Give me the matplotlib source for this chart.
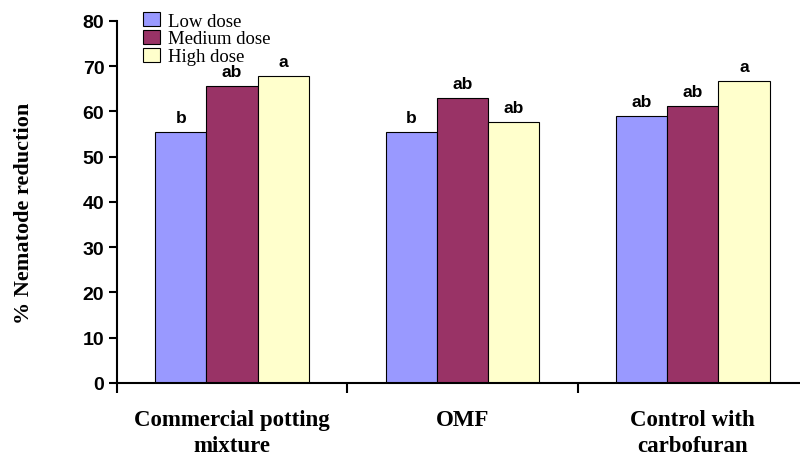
""" Nematode reduction bar chart """

import matplotlib.pyplot as plt
import numpy as np

categories = ["Commercial potting\nmixture", "OMF", "Control with\ncarbofuran"]
doses = ["Low dose", "Medium dose", "High dose"]
low = [55.5, 55.5, 59.0]
medium = [65.7, 63.0, 61.2]
high = [67.8, 57.6, 66.8]
low_letters = ["b", "b", "ab"]
medium_letters = ["ab", "ab", "ab"]
high_letters = ["a", "ab", "a"]

colours = ["#9999FF", "#993366", "#FFFFCC"]

fig = plt.figure(figsize=(8, 4.56), dpi=100)
ax = fig.add_axes([0.146, 0.158, 0.864, 0.794])

x = np.arange(1, len(categories) + 1)
width = 0.222
series = [low, medium, high]
letters = [low_letters, medium_letters, high_letters]

for i, (vals, col, lab, lets) in enumerate(zip(series, colours, doses, letters)):
    pos = x + (i - 1) * width
    ax.bar(pos, vals, width, color=col, edgecolor="black", linewidth=0.8, label=lab)
    for p, v, t in zip(pos, vals, lets):
        ax.text(p, v + 1.5, t, ha="center", va="bottom", fontsize=12.5,
                fontweight="bold", family="Liberation Sans")

ax.set_xlim(0.5, 3.5)
ax.set_ylim(0, 80)
ax.set_yticks(range(0, 81, 10))
ax.set_xticks([0.5, 1.5, 2.5, 3.5])
ax.set_xticklabels([])
ax.set_xticks(x, minor=True)
ax.set_xticklabels(categories, minor=True, fontsize=16.5, fontweight="bold",
                   family="Liberation Serif", linespacing=1.3)
ax.tick_params(axis="x", which="minor", length=0, pad=19)
ax.tick_params(axis="x", which="major", direction="out", length=7, width=1.5)
ax.tick_params(axis="y", direction="out", length=6, width=1.5, labelsize=14, pad=3)
for tl in ax.get_yticklabels():
    tl.set_fontweight("bold")
    tl.set_family("Liberation Sans")

ax.spines["top"].set_visible(False)
ax.spines["right"].set_visible(False)
ax.spines["left"].set_linewidth(1.5)
ax.spines["bottom"].set_linewidth(1.5)

ax.set_ylabel("% Nematode reduction", fontsize=16, fontweight="bold",
              family="Liberation Serif")
ax.yaxis.set_label_coords(-0.12, 0.47)

ax.legend(loc="upper left", bbox_to_anchor=(0.177, 0.975), bbox_transform=fig.transFigure,
          frameon=False, prop={"family": "Liberation Serif", "size": 13.5},
          handlelength=0.9, handleheight=0.75, handletextpad=0.4, labelspacing=0.02,
          borderpad=0.1, borderaxespad=0.0)

plt.savefig("out.png", dpi=100)
